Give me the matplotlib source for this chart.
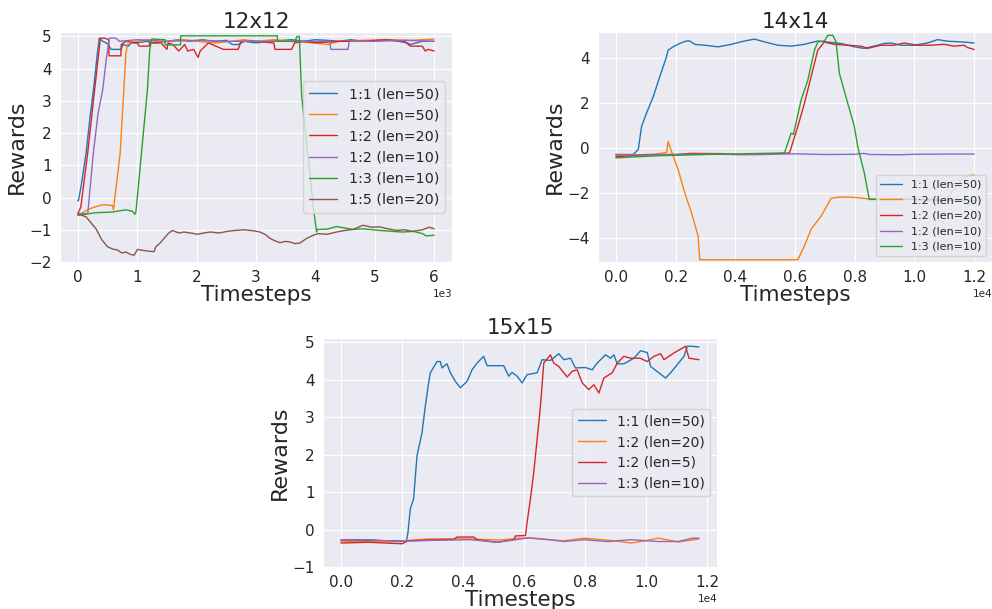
import matplotlib
matplotlib.use("Agg")
import matplotlib.pyplot as plt
from matplotlib.ticker import MultipleLocator
import seaborn as sns

sns.set_style("darkgrid")

# ---------------- 12x12 ----------------
labels_12 = ["1:1 (len=50)", "1:2 (len=50)", "1:2 (len=20)",
             "1:2 (len=10)", "1:3 (len=10)", "1:5 (len=20)"]
colors_12 = ["C0", "C1", "C3", "C4", "C2", "C5"]

x12_a = [0, 10, 60, 140, 200, 270, 330, 362, 420, 480, 510, 560, 730, 760, 850, 900,
         1000, 1150, 1300, 1500, 1700, 1900, 2100, 2300, 2500, 2600, 2700, 2800, 3000,
         3200, 3400, 3600, 3800, 4000, 4200, 4400, 4600, 4800, 5000, 5200, 5400, 5550,
         5600, 5700, 5800, 6000]
y12_a = [-0.1, -0.09, 0.4, 1.4, 2.4, 3.46, 4.5, 4.95, 4.85, 4.8, 4.75, 4.6, 4.6, 4.75,
         4.7, 4.8, 4.8, 4.85, 4.8, 4.85, 4.9, 4.85, 4.9, 4.85, 4.88, 4.75, 4.75, 4.85,
         4.8, 4.85, 4.87, 4.9, 4.85, 4.9, 4.88, 4.85, 4.9, 4.85, 4.87, 4.9, 4.85, 4.8,
         4.75, 4.8, 4.85, 4.85]

x12_b = [0, 100, 195, 280, 362, 450, 585, 600, 714, 809, 837, 900, 1000, 1200, 1400,
         1600, 1800, 2000, 2300, 2600, 2800, 3000, 3300, 3600, 4000, 4200, 4400, 4800,
         5200, 5600, 6000]
y12_b = [-0.55, -0.45, -0.35, -0.3, -0.25, -0.22, -0.25, -0.38, 1.4, 4.48, 4.75, 4.8,
         4.85, 4.9, 4.82, 4.87, 4.9, 4.85, 4.8, 4.85, 4.9, 4.85, 4.9, 4.85, 4.8, 4.75,
         4.85, 4.88, 4.9, 4.88, 4.92]

x12_c = [0, 50, 167, 280, 380, 450, 519, 525, 725, 730, 810, 1000, 1030, 1200, 1210,
         1400, 1500, 1520, 1600, 1700, 1800, 1850, 1950, 2025, 2060, 2200, 2450, 2500,
         2700, 2750, 3000, 3300, 3320, 3600, 3650, 3800, 4000, 4400, 4800, 5200, 5500,
         5600, 5800, 5850, 5900, 6000]
y12_c = [-0.5, -0.3, 1.4, 3.3, 4.95, 4.95, 4.9, 4.4, 4.4, 4.75, 4.85, 4.8, 4.7, 4.7,
         4.8, 4.8, 4.6, 4.8, 4.75, 4.55, 4.75, 4.55, 4.6, 4.35, 4.55, 4.8, 4.6, 4.6,
         4.6, 4.85, 4.85, 4.8, 4.6, 4.6, 4.8, 4.85, 4.8, 4.85, 4.85, 4.9, 4.85, 4.7,
         4.7, 4.55, 4.6, 4.55]

x12_d = [0, 167, 262, 340, 419, 480, 530, 640, 700, 1000, 1500, 2000, 2500, 3000, 3500,
         4000, 4240, 4260, 4550, 4570, 5000, 5500, 6000]
y12_d = [-0.5, -0.5, 1.4, 2.6, 3.35, 4.3, 4.95, 4.95, 4.85, 4.9, 4.85, 4.88, 4.85, 4.85,
         4.85, 4.85, 4.85, 4.6, 4.6, 4.85, 4.85, 4.88, 4.85]

x12_e = [0, 300, 580, 810, 922, 960, 978, 1172, 1211, 1245, 1468, 1470, 1730, 1732,
         3360, 3362, 3657, 3690, 3730, 3769, 3964, 4020, 4030, 4200, 4355, 4633, 4800,
         5080, 5300, 5470, 5650, 5805, 5862, 6000]
y12_e = [-0.55, -0.47, -0.45, -0.38, -0.43, -0.52, -0.45, 3.35, 4.59, 4.92, 4.9, 4.74,
         4.74, 5.02, 5.02, 4.85, 4.85, 5.0, 5.0, 3.15, -0.25, -1.07, -0.99, -0.98, -0.9,
         -0.99, -0.97, -1.02, -1.05, -1.07, -1.05, -1.12, -1.19, -1.17]

x12_f = [0, 139, 220, 306, 400, 502, 590, 670, 740, 809, 880, 948, 1005, 1100, 1172,
         1284, 1312, 1380, 1451, 1520, 1591, 1700, 1786, 1900, 2010, 2120, 2233, 2380,
         2513, 2650, 2791, 2950, 3070, 3160, 3238, 3330, 3405, 3500, 3573, 3660, 3740,
         3852, 3964, 4047, 4200, 4355, 4500, 4633, 4801, 4950, 5080, 5200, 5359, 5500,
         5638, 5805, 5917, 6000]
y12_f = [-0.5, -0.6, -0.78, -0.97, -1.3, -1.53, -1.6, -1.63, -1.72, -1.69, -1.76, -1.79,
         -1.61, -1.64, -1.66, -1.68, -1.53, -1.42, -1.27, -1.12, -1.02, -1.1, -1.07, -1.1,
         -1.14, -1.1, -1.07, -1.1, -1.05, -1.02, -1.0, -1.03, -1.07, -1.15, -1.27, -1.35,
         -1.4, -1.36, -1.38, -1.43, -1.41, -1.27, -1.17, -1.12, -1.14, -1.07, -1.02, -0.99,
         -0.86, -0.92, -0.91, -0.96, -1.02, -1.0, -1.05, -1.0, -0.92, -0.97]

# ---------------- 14x14 ----------------
labels_14 = ["1:1 (len=50)", "1:2 (len=50)", "1:2 (len=20)",
             "1:2 (len=10)", "1:3 (len=10)"]
colors_14 = ["C0", "C1", "C3", "C4", "C2"]

x14_a = [0, 580, 750, 860, 1026, 1250, 1470, 1694, 1750, 1918, 2140, 2363, 2475, 2640,
         2975, 3422, 3867, 4312, 4646, 4980, 5428, 5872, 6316, 6764, 7100, 7544, 7988,
         8322, 8770, 8990, 9214, 9549, 9993, 10441, 10775, 11110, 11554, 12000]
y14_a = [-0.3, -0.3, -0.08, 0.95, 1.54, 2.27, 3.16, 4.04, 4.34, 4.49, 4.64, 4.75, 4.75,
         4.6, 4.56, 4.49, 4.6, 4.75, 4.83, 4.71, 4.56, 4.52, 4.6, 4.75, 4.7, 4.64, 4.49,
         4.42, 4.56, 4.64, 4.66, 4.56, 4.56, 4.66, 4.81, 4.74, 4.71, 4.66]

x14_b = [0, 500, 1250, 1584, 1700, 1751, 1862, 2085, 2307, 2530, 2754, 2808, 4000, 6096,
         6316, 6540, 6875, 7209, 7432, 7767, 8100, 8433, 9549, 10662, 10884, 11100, 11330,
         11665, 12000]
y14_b = [-0.35, -0.35, -0.3, -0.23, -0.2, 0.28, -0.16, -0.97, -2.0, -2.88, -3.92, -4.98,
         -4.98, -4.98, -4.36, -3.62, -3.04, -2.25, -2.2, -2.19, -2.22, -2.27, -2.27,
         -2.33, -2.3, -2.2, -1.85, -1.3, -1.2]

x14_c = [0, 500, 1000, 2000, 2500, 3500, 4000, 5000, 5816, 6096, 6316, 6540, 6764, 6986,
         7100, 7320, 7766, 8210, 8433, 8880, 9324, 9660, 10107, 10550, 10996, 11330,
         11665, 11777, 12000]
y14_c = [-0.4, -0.35, -0.3, -0.3, -0.25, -0.26, -0.3, -0.3, -0.23, 0.95, 1.98, 3.16,
         4.34, 4.71, 4.66, 4.6, 4.56, 4.52, 4.42, 4.56, 4.56, 4.66, 4.56, 4.56, 4.6, 4.52,
         4.56, 4.46, 4.37]

x14_d = [0, 1000, 2000, 3000, 4000, 5000, 6000, 7000, 8000, 8300, 8500, 9500, 10000,
         11000, 12000]
y14_d = [-0.3, -0.32, -0.3, -0.28, -0.3, -0.29, -0.27, -0.3, -0.29, -0.25, -0.3, -0.31,
         -0.29, -0.28, -0.28]

x14_e = [0, 700, 1500, 3000, 5648, 5872, 5950, 6206, 6430, 6651, 6764, 6987, 7100, 7266,
         7376, 7487, 7767, 7988, 8100, 8322, 8490, 9500, 10500, 12000]
y14_e = [-0.45, -0.4, -0.35, -0.3, -0.23, 0.65, 0.6, 2.13, 3.01, 4.34, 4.71, 4.75, 5.0,
         5.0, 4.71, 3.31, 1.98, 0.95, 0.06, -1.12, -2.3, -2.28, -2.32, -2.35]

# ---------------- 15x15 ----------------
labels_15 = ["1:1 (len=50)", "1:2 (len=20)", "1:2 (len=5)", "1:3 (len=10)"]
colors_15 = ["C0", "C1", "C3", "C4"]

x15_a = [0, 1000, 2150, 2197, 2272, 2380, 2492, 2656, 2764, 2872, 2928, 3148, 3257, 3311,
         3475, 3584, 3748, 3911, 4131, 4295, 4459, 4675, 4787, 5331, 5495, 5605, 5770,
         5934, 6098, 6426, 6590, 6862, 7134, 7298, 7518, 7682, 8010, 8229, 8393, 8666,
         8830, 8940, 9049, 9268, 9596, 9813, 10032, 10141, 10413, 10633, 10797, 11017,
         11235, 11345, 11455, 11725]
y15_a = [-0.3, -0.3, -0.3, -0.07, 0.55, 0.82, 1.97, 2.59, 3.3, 3.92, 4.19, 4.49, 4.49,
         4.32, 4.43, 4.19, 3.96, 3.79, 3.96, 4.27, 4.45, 4.63, 4.38, 4.38, 4.1, 4.2, 4.1,
         3.92, 4.14, 4.19, 4.54, 4.52, 4.7, 4.54, 4.58, 4.32, 4.33, 4.27, 4.45, 4.67, 4.58,
         4.67, 4.43, 4.43, 4.58, 4.78, 4.73, 4.36, 4.19, 4.05, 4.19, 4.41, 4.63, 4.9, 4.9,
         4.88]

x15_b = [0, 1000, 2000, 2200, 2900, 4240, 5200, 5880, 6210, 7300, 7960, 8950, 9500,
         9950, 10390, 11050, 11730]
y15_b = [-0.31, -0.33, -0.32, -0.29, -0.25, -0.25, -0.28, -0.23, -0.23, -0.3, -0.23,
         -0.3, -0.36, -0.3, -0.23, -0.33, -0.25]

x15_c = [0, 900, 2000, 2200, 3147, 3700, 3800, 4350, 4460, 5115, 5660, 5720, 6043, 6098,
         6207, 6315, 6426, 6534, 6643, 6862, 6970, 7134, 7298, 7410, 7574, 7736, 7902,
         8118, 8284, 8448, 8610, 8885, 9049, 9266, 9486, 9800, 10033, 10250, 10469,
         10580, 10905, 11289, 11397, 11725]
y15_c = [-0.36, -0.34, -0.38, -0.3, -0.27, -0.26, -0.2, -0.2, -0.27, -0.34, -0.27, -0.17,
         -0.16, 0.2, 0.82, 1.53, 2.41, 3.3, 4.45, 4.67, 4.45, 4.36, 4.19, 4.08, 4.23,
         4.27, 3.92, 3.74, 3.87, 3.65, 4.05, 4.19, 4.45, 4.63, 4.58, 4.58, 4.49, 4.63,
         4.7, 4.54, 4.72, 4.9, 4.58, 4.54]

x15_d = [0, 1000, 1830, 2900, 4240, 5115, 6160, 6800, 7300, 7960, 8730, 9500, 10390,
         11050, 11510, 11730]
y15_d = [-0.27, -0.27, -0.32, -0.29, -0.27, -0.34, -0.22, -0.27, -0.32, -0.27, -0.32,
         -0.27, -0.32, -0.32, -0.23, -0.23]

panels = [
    dict(title="12x12", rect=[0.0605, 0.5698, 0.3951, 0.3777],
         xs=[x12_a, x12_b, x12_c, x12_d, x12_e, x12_f],
         ys=[y12_a, y12_b, y12_c, y12_d, y12_e, y12_f],
         labels=labels_12, colors=colors_12, ylim=(-2.0, 5.14), ystep=1,
         loc="center right", legend_size=10.3),
    dict(title="14x14", rect=[0.6028, 0.5698, 0.3972, 0.3777],
         xs=[x14_a, x14_b, x14_c, x14_d, x14_e],
         ys=[y14_a, y14_b, y14_c, y14_d, y14_e],
         labels=labels_14, colors=colors_14, ylim=(-5.08, 5.15), ystep=2,
         loc="lower right", legend_size=8),
    dict(title="15x15", rect=[0.3256, 0.069, 0.3972, 0.376],
         xs=[x15_a, x15_b, x15_c, x15_d],
         ys=[y15_a, y15_b, y15_c, y15_d],
         labels=labels_15, colors=colors_15, ylim=(-1.0, 5.12), ystep=1,
         loc="center right", legend_size=10),
]

fig = plt.figure(figsize=(9.92, 6.09), dpi=100)

for p in panels:
    ax = fig.add_axes(p["rect"])
    for x, y, lab, col in zip(p["xs"], p["ys"], p["labels"], p["colors"]):
        ax.plot(x, y, color=col, lw=1.0, label=lab)
    ax.set_ylim(*p["ylim"])
    ax.yaxis.set_major_locator(MultipleLocator(p["ystep"]))
    ax.ticklabel_format(style="sci", axis="x", scilimits=(0, 0))
    ax.tick_params(labelsize=11, pad=2.5)
    ax.xaxis.get_offset_text().set_fontsize(7.5)
    ax.set_title(p["title"], fontsize=15.5, pad=3)
    ax.set_xlabel("Timesteps", fontsize=15.5, labelpad=0)
    ax.set_ylabel("Rewards", fontsize=16, labelpad=2)
    ax.legend(loc=p["loc"], fontsize=p["legend_size"])

fig.savefig("out.png", dpi=100)
